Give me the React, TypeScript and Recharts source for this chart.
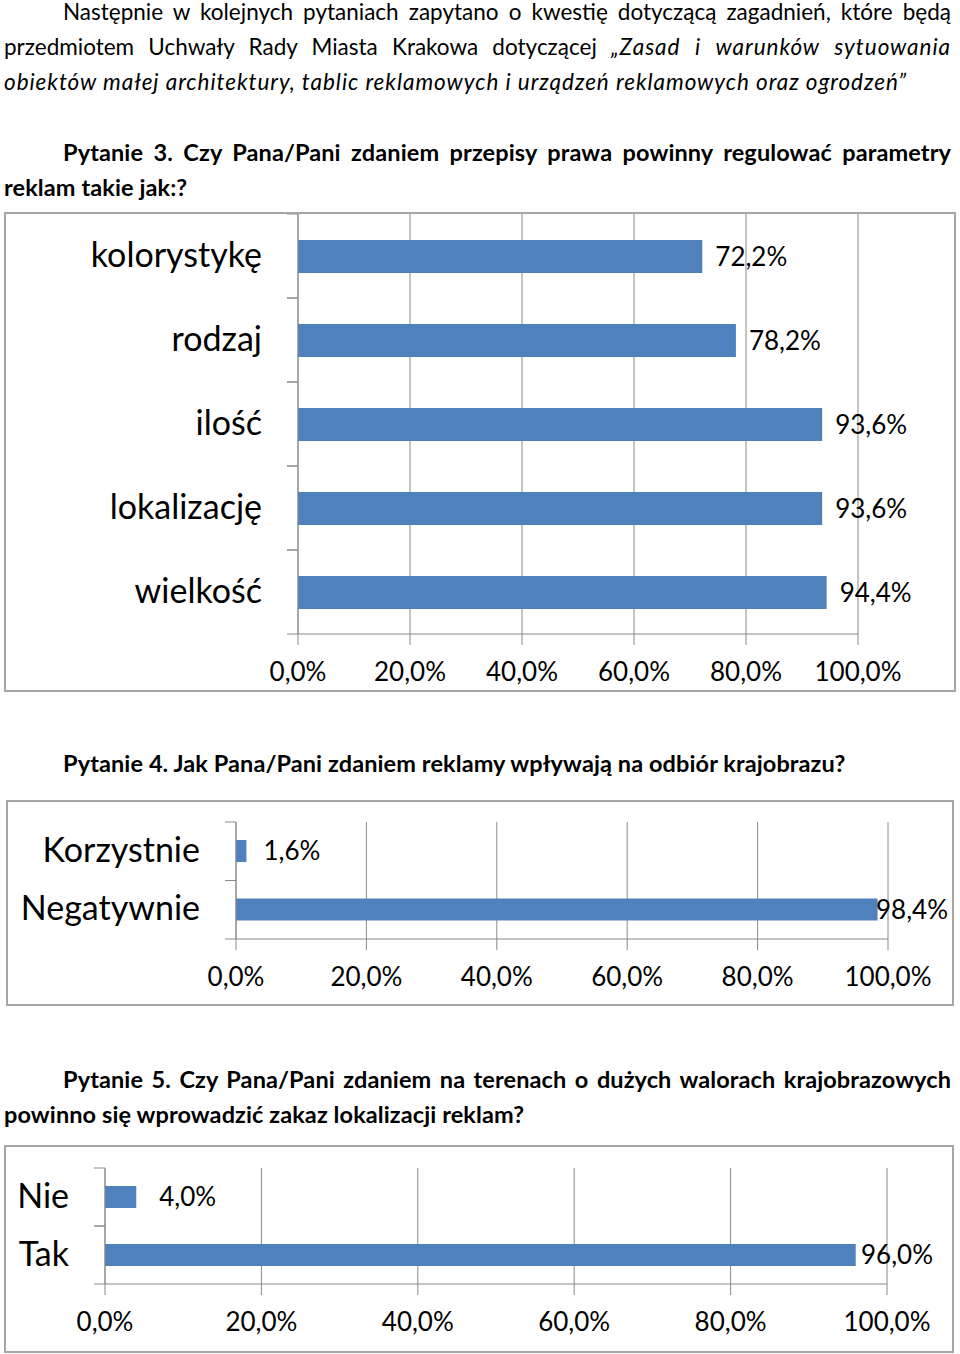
import React from "react";
import { BarChart, Bar, XAxis, YAxis, CartesianGrid, LabelList } from "recharts";

// Pytanie 3
const q3Categories = ["kolorystykę", "rodzaj", "ilość", "lokalizację", "wielkość"];
const q3Values = [72.2, 78.2, 93.6, 93.6, 94.4];
// Pytanie 4
const q4Categories = ["Korzystnie", "Negatywnie"];
const q4Values = [1.6, 98.4];
// Pytanie 5
const q5Categories = ["Nie", "Tak"];
const q5Values = [4.0, 96.0];

const percentTicks = [0, 20, 40, 60, 80, 100];

const BAR = "#4f81bd";
const GRID = "#8a8a8a";
const FONT = "Lato, 'Open Sans', sans-serif";
const CAT_MARGIN = 36;

const fmt = (v: number) => v.toFixed(1).replace(".", ",") + "%";

const CategoryTick = (props: any) => {
  const { x, y, payload, fontSize } = props;
  const half = payload.offset || 0;
  const axisX = x + CAT_MARGIN;
  return (
    <g>
      <line x1={axisX - 11} x2={axisX} y1={y - half} y2={y - half} stroke={GRID} />
      <line x1={axisX - 11} x2={axisX} y1={y + half} y2={y + half} stroke={GRID} />
      <text x={x} y={y - 3} textAnchor="end" dominantBaseline="central" fontSize={fontSize} fontFamily={FONT} fill="#000">
        {payload.value}
      </text>
    </g>
  );
};

const valueLabel = (gap: number, maxX: number) => (props: any) => {
  const { x, y, width, height, value } = props;
  const text = fmt(Number(value));
  const estW = text.length * 26 * 0.52;
  let tx = x + width + gap;
  let anchor: "start" | "end" = "start";
  if (tx + estW > maxX) {
    tx = maxX;
    anchor = "end";
  }
  return (
    <text x={tx} y={y + height / 2 - 1} textAnchor={anchor} dominantBaseline="central" fontSize={26} fontFamily={FONT} fill="#000">
      {text}
    </text>
  );
};

const HBar = (props: {
  categories: string[];
  values: number[];
  width: number;
  height: number;
  margin: { top: number; right: number; bottom: number; left: number };
  yWidth: number;
  xHeight: number;
  barSize: number;
  gap: number;
  maxX: number;
}) => {
  const data = props.categories.map((name, i) => ({ name, value: props.values[i] }));
  return (
    <BarChart layout="vertical" width={props.width} height={props.height} data={data} margin={props.margin}>
      <CartesianGrid horizontal={false} stroke={GRID} />
      <XAxis
        type="number"
        domain={[0, 100]}
        ticks={percentTicks}
        interval={0}
        tickFormatter={fmt}
        stroke={GRID}
        tickSize={11}
        tickMargin={18}
        height={props.xHeight}
        tick={{ fontSize: 26, fontFamily: FONT, fill: "#000" }}
      />
      <YAxis
        type="category"
        dataKey="name"
        width={props.yWidth}
        interval={0}
        stroke={GRID}
        tickLine={false}
        tickSize={0}
        tickMargin={CAT_MARGIN}
        tick={<CategoryTick fontSize={34} />}
      />
      <Bar dataKey="value" fill={BAR} barSize={props.barSize} isAnimationActive={false}>
        <LabelList dataKey="value" content={valueLabel(props.gap, props.maxX)} />
      </Bar>
    </BarChart>
  );
};

const textStyle: React.CSSProperties = {
  position: "absolute",
  left: 4,
  width: 947,
  fontFamily: FONT,
  fontSize: 22.5,
  lineHeight: "35px",
  textAlign: "justify",
  textIndent: 59,
  margin: 0,
  color: "#000",
};

const headStyle: React.CSSProperties = {
  ...textStyle,
  fontSize: 23.5,
  letterSpacing: 0.1,
  fontWeight: "bold",
};

const boxStyle: React.CSSProperties = {
  position: "absolute",
  border: "2px solid #a6a6a6",
  boxSizing: "border-box",
  background: "#fff",
};

export default function App() {
  return (
    <div style={{ position: "absolute", left: 0, top: 0, width: 960, height: 1354, background: "#fff", overflow: "hidden" }}>
      <p style={{ ...textStyle, top: -6 }}>
        Następnie w kolejnych pytaniach zapytano o kwestię dotyczącą zagadnień, które będą przedmiotem Uchwały Rady
        Miasta Krakowa dotyczącej{" "}
        <i style={{ letterSpacing: 0.95 }}>
          „Zasad i warunków sytuowania obiektów małej architektury, tablic reklamowych i urządzeń reklamowych oraz
          ogrodzeń”
        </i>
      </p>
      <p style={{ ...headStyle, top: 135 }}>
        Pytanie 3. Czy Pana/Pani zdaniem przepisy prawa powinny regulować parametry reklam takie jak:?
      </p>
      <div style={{ ...boxStyle, left: 4, top: 212, width: 952, height: 480 }}>
        <HBar
          categories={q3Categories}
          values={q3Values}
          width={948}
          height={476}
          margin={{ top: 0, right: 96, bottom: 0, left: 0 }}
          yWidth={292}
          xHeight={56}
          barSize={33}
          gap={13}
          maxX={940}
        />
      </div>
      <p style={{ ...headStyle, top: 746 }}>
        Pytanie 4. Jak Pana/Pani zdaniem reklamy wpływają na odbiór krajobrazu?
      </p>
      <div style={{ ...boxStyle, left: 6, top: 800, width: 948, height: 206 }}>
        <HBar
          categories={q4Categories}
          values={q4Values}
          width={944}
          height={202}
          margin={{ top: 20, right: 64, bottom: 0, left: 0 }}
          yWidth={228}
          xHeight={65}
          barSize={22}
          gap={17}
          maxX={940}
        />
      </div>
      <p style={{ ...headStyle, top: 1062 }}>
        Pytanie 5. Czy Pana/Pani zdaniem na terenach o dużych walorach krajobrazowych powinno się wprowadzić zakaz
        lokalizacji reklam?
      </p>
      <div style={{ ...boxStyle, left: 4, top: 1145, width: 950, height: 208 }}>
        <HBar
          categories={q5Categories}
          values={q5Values}
          width={946}
          height={204}
          margin={{ top: 21, right: 65, bottom: 0, left: 0 }}
          yWidth={99}
          xHeight={67}
          barSize={22}
          gap={23}
          maxX={927}
        />
      </div>
    </div>
  );
}
